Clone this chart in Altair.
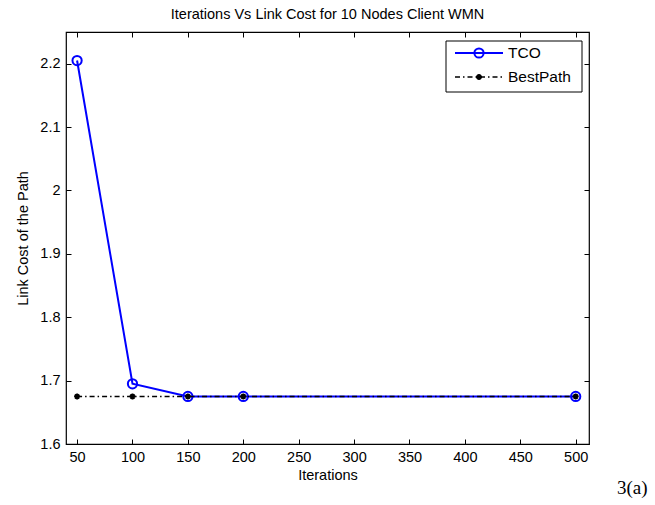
import altair as alt
import pandas as pd

iterations = [50, 100, 150, 200, 500]
tco = [2.205, 1.695, 1.675, 1.675, 1.675]
bestpath = [1.675, 1.675, 1.675, 1.675, 1.675]
series_names = ["TCO", "BestPath"]
x_ticks = [50, 100, 150, 200, 250, 300, 350, 400, 450, 500]
y_ticks = [1.6, 1.7, 1.8, 1.9, 2.0, 2.1, 2.2]

df = pd.DataFrame({"iter": iterations, "tco": tco, "best": bestpath})

FONT = "Liberation Sans"
FS = 14.5
W, H = 523, 412
xs = alt.Scale(domain=[40, 512], nice=False, zero=False)
ys = alt.Scale(domain=[1.6, 2.25], nice=False, zero=False)

def xaxis(orient, labels=True):
    return alt.Axis(orient=orient, values=x_ticks, domain=False, grid=False, offset=-5,
                    tickSize=5, tickColor="black", labels=labels, labelPadding=6,
                    labelFont=FONT, labelFontSize=FS, labelColor="black",
                    title="Iterations" if labels else None, titleFont=FONT,
                    titleFontSize=FS, titleFontWeight="normal", titleColor="black",
                    titlePadding=5)

def yaxis(orient, labels=True):
    return alt.Axis(orient=orient, values=y_ticks, domain=False, grid=False, offset=-5,
                    tickSize=5, tickColor="black", labels=labels, labelPadding=6,
                    format=".2~f", labelFont=FONT, labelFontSize=FS, labelColor="black",
                    title="Link Cost of the Path" if labels else None, titleFont=FONT,
                    titleFontSize=FS, titleFontWeight="normal", titleColor="black",
                    titlePadding=9)

base = alt.Chart(df)

tco_line = base.mark_line(color="#0000FF", strokeWidth=2).encode(
    x=alt.X("iter:Q", scale=xs, axis=xaxis("bottom")),
    y=alt.Y("tco:Q", scale=ys, axis=yaxis("left")),
)
tco_pts = base.mark_point(shape="circle", filled=False, color="#0000FF", size=85,
                          strokeWidth=2, opacity=1).encode(
    x=alt.X("iter:Q", scale=xs), y=alt.Y("tco:Q", scale=ys))

ASTER = "M-1,0L1,0M0,-1L0,1M-0.7,-0.7L0.7,0.7M-0.7,0.7L0.7,-0.7"
best_line = base.mark_line(color="black", strokeWidth=1.5, strokeDash=[5, 3, 1.5, 3]).encode(
    x=alt.X("iter:Q", scale=xs), y=alt.Y("best:Q", scale=ys))
best_pts = base.mark_point(shape=ASTER, filled=False, color="black", size=36,
                           strokeWidth=1.8, opacity=1).encode(
    x=alt.X("iter:Q", scale=xs), y=alt.Y("best:Q", scale=ys))

mirror = base.mark_point(opacity=0).encode(
    x=alt.X("iter:Q", scale=xs, axis=xaxis("top", labels=False)),
    y=alt.Y("best:Q", scale=ys, axis=yaxis("right", labels=False)),
)

main = alt.layer(tco_line, tco_pts, best_line, best_pts).resolve_scale(x="shared", y="shared")

# Legend
one = pd.DataFrame({"a": [0]})
box = alt.Chart(one).mark_rect(
    fill="white", stroke="black", strokeWidth=1).encode(
    x=alt.value(380), x2=alt.value(516), y=alt.value(9), y2=alt.value(60))
leg1_line = alt.Chart(one).mark_rule(color="#0000FF", strokeWidth=2).encode(
    x=alt.value(389), x2=alt.value(437), y=alt.value(21))
leg1_pt = alt.Chart(one).mark_point(
    shape="circle", filled=False, color="#0000FF", size=85, strokeWidth=2, opacity=1).encode(
    x=alt.value(413), y=alt.value(21))
leg2_line = alt.Chart(one).mark_rule(
    color="black", strokeWidth=1.5, strokeDash=[5, 3, 1.5, 3]).encode(
    x=alt.value(389), x2=alt.value(437), y=alt.value(45))
leg2_pt = alt.Chart(one).mark_point(
    shape=ASTER, filled=False, color="black", size=36, strokeWidth=1.8, opacity=1).encode(
    x=alt.value(413), y=alt.value(45))
leg_txt1 = alt.Chart(pd.DataFrame({"name": [series_names[0]]})).mark_text(
    align="left", baseline="middle", font=FONT, fontSize=15.5, color="black").encode(
    x=alt.value(442), y=alt.value(21), text="name:N")
leg_txt2 = alt.Chart(pd.DataFrame({"name": [series_names[1]]})).mark_text(
    align="left", baseline="middle", font=FONT, fontSize=15.5, color="black").encode(
    x=alt.value(442), y=alt.value(45), text="name:N")

caption = alt.Chart(pd.DataFrame({"t": ["3(a)"]})).mark_text(
    align="left", baseline="alphabetic", font="Liberation Serif", fontSize=19,
    color="black").encode(x=alt.value(551), y=alt.value(462), text="t:N")

chart = alt.layer(
    main, mirror, box, leg1_line, leg1_pt, leg2_line, leg2_pt, leg_txt1, leg_txt2, caption
).resolve_axis(x="independent", y="independent").properties(
    width=W, height=H,
    title=alt.TitleParams("Iterations Vs Link Cost for 10 Nodes Client WMN", font=FONT,
                          fontSize=FS, fontWeight="normal", color="black", anchor="middle",
                          offset=9),
    autosize=alt.AutoSizeParams(type="none"),
    padding={"left": 66, "top": 32, "right": 66, "bottom": 61},
).configure(background="white").configure_view(stroke="black", strokeWidth=1.2)

chart.save("out.html", embed_options={"renderer": "svg", "actions": False})
